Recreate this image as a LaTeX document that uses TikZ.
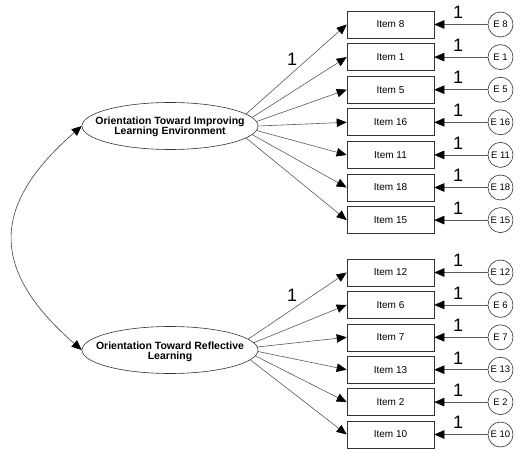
\documentclass[tikz,border=0pt]{standalone}
\usepackage{fontspec}
\setmainfont{Liberation Sans}
\usetikzlibrary{arrows.meta,shapes.geometric}
\begin{document}
\begin{tikzpicture}[x=1pt,y=-1pt,
  item/.style={draw=black!80, line width=0.6pt, minimum width=87pt, minimum height=27pt, inner sep=0pt, font=\fontsize{10}{10}\selectfont},
  err/.style={circle, draw=black!80, line width=0.6pt, minimum size=25pt, inner sep=0pt, font=\fontsize{9.5}{10}\selectfont},
  latent/.style={ellipse, draw=black!80, line width=0.6pt, minimum width=176pt, minimum height=47pt, inner sep=0pt},
  lattext/.style={align=center, inner sep=0pt, font=\bfseries\fontsize{10.5}{10.5}\selectfont},
  load/.style={draw=black!65, line width=0.6pt, -{Triangle[length=10pt,width=8.5pt,color=black]}},
  cov/.style={draw=black!75, line width=0.6pt, {Triangle[length=10pt,width=8.5pt,color=black]}-{Triangle[length=10pt,width=8.5pt,color=black]}},
  one/.style={font=\fontsize{18}{18}\selectfont, inner sep=0pt}
]
\useasboundingbox (0,0) rectangle (521,449);
\node[latent] (e1) at (170,126) {};
\node[lattext] (t1) at (170,127) {Orientation Toward Improving\\Learning Environment};
\node[latent] (e2) at (170,350) {};
\node[lattext] (t2) at (170,352) {Orientation Toward Reflective\\Learning};

\foreach \n [count=\i from 0] in {8,1,5,16,11,18,15} {
  \pgfmathsetmacro\yy{24.5+32.6*\i}
  \pgfmathtruncatemacro\ang{mod(369-3*\i,360)}
  \node[item] (a\i) at (390.5,\yy) {Item \n};
  \node[err] (ea\i) at (500.5,\yy) {E \n};
  \draw[load] (ea\i) -- (a\i);
  \node[one, anchor=south] (la\i) at (458,{\yy-5.5}) {1};
  \draw[load] (e1.\ang) -- (a\i.west);
}
\foreach \n [count=\i from 0] in {12,6,7,13,2,10} {
  \pgfmathsetmacro\yy{272.5+32.4*\i}
  \pgfmathtruncatemacro\ang{mod(368-3*\i,360)}
  \node[item] (b\i) at (390.5,\yy) {Item \n};
  \node[err] (eb\i) at (500.5,\yy) {E \n};
  \draw[load] (eb\i) -- (b\i);
  \node[one, anchor=south] (lb\i) at (458,{\yy-5.5}) {1};
  \draw[load] (e2.\ang) -- (b\i.west);
}
\node[one] (l1) at (292,59) {1};
\node[one] (l2) at (292,295) {1};
\draw[cov] (e1.west) .. controls (-10,206) and (-10,270) .. (e2.west);
\end{tikzpicture}
\end{document}
